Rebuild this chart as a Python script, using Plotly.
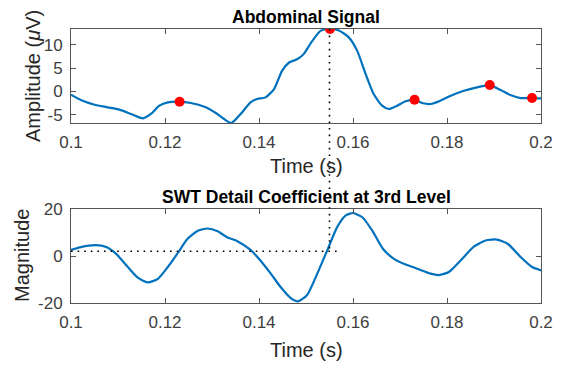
import plotly.graph_objects as go
from plotly.subplots import make_subplots

# ---- data ----
sig_t = [0.1, 0.1021, 0.105, 0.1078, 0.1103, 0.1128, 0.1153, 0.117, 0.1188, 0.1206,
         0.1231, 0.1255, 0.1284, 0.1309, 0.1325, 0.1341, 0.1361, 0.1382, 0.1396, 0.1414,
         0.1432, 0.1449, 0.1464, 0.1481, 0.1495, 0.1513, 0.1531, 0.1551, 0.157, 0.1591,
         0.1609, 0.1627, 0.1644, 0.1662, 0.1676, 0.1694, 0.1712, 0.1731, 0.1747, 0.1765,
         0.1786, 0.1808, 0.1836, 0.1864, 0.1891, 0.1914, 0.1935, 0.1957, 0.1981, 0.2]
sig_v = [-0.73, -1.86, -2.87, -3.43, -3.93, -4.86, -5.79, -4.86, -3.08, -2.36,
         -2.22, -2.5, -3.3, -4.7, -5.9, -6.8, -4.86, -2.36, -1.65, -1.29,
         0.49, 4.41, 6.2, 6.9, 8.0, 10.8, 13.0, 13.4, 13.1, 11.6,
         8.7, 3.7, -0.58, -3.08, -3.8, -3.08, -2.14, -1.8, -2.5, -2.72,
         -2.0, -0.94, 0.13, 0.86, 1.35, 0.28, -0.8, -1.44, -1.44, -1.5]

peak_t = [0.1231, 0.1551, 0.1731, 0.1891, 0.1981]
peak_v = [-2.22, 13.4, -1.8, 1.35, -1.44]

swt_t = [0.1, 0.1021, 0.1053, 0.1075, 0.1096, 0.1121, 0.1142, 0.1163, 0.1185, 0.1206,
         0.1227, 0.1248, 0.127, 0.1291, 0.1312, 0.1332, 0.1354, 0.1382, 0.1403, 0.1425,
         0.1446, 0.1467, 0.1483, 0.1502, 0.1524, 0.1545, 0.1566, 0.1584, 0.16, 0.162,
         0.1641, 0.1664, 0.1687, 0.1708, 0.1737, 0.1765, 0.1783, 0.1804, 0.1829, 0.1857,
         0.1882, 0.1906, 0.1929, 0.1957, 0.1981, 0.2]
swt_v = [2.6, 3.8, 4.6, 3.8, 0.9, -4.7, -9.2, -11.2, -9.7, -4.7,
         1.2, 7.3, 10.8, 11.7, 10.5, 8.0, 6.3, 2.6, -1.9, -7.5,
         -13.2, -17.8, -19.3, -16.7, -7.5, 2.3, 12.2, 17.2, 18.3, 16.5,
         10.8, 3.0, -1.2, -3.3, -5.4, -7.5, -8.1, -6.8, -1.9, 4.0,
         6.6, 7.0, 5.2, -0.5, -4.7, -6.1]

marker_t = 0.155       # time of the main peak
marker_swt = 2.0       # SWT value at that time
hline_end = 0.1575

x_ticks = [0.1, 0.12, 0.14, 0.16, 0.18, 0.2]
x_ticktext = ["0.1", "0.12", "0.14", "0.16", "0.18", "0.2"]
y1_ticks = [-5, 0, 5, 10]
y1_ticktext = ["-5", "0", "5", "10"]
y2_ticks = [-20, 0, 20]
y2_ticktext = ["-20", "0", "20"]
y1_range = [-6.8, 13.4]
y2_range = [-20, 20]

# ---- figure ----
top_dom = [0.657, 1.0]
bot_dom = [0.0, 0.343]

fig = make_subplots(rows=2, cols=1)
fig.add_trace(go.Scatter(x=sig_t, y=sig_v, mode="lines",
                         line=dict(color="#0072BD", width=2.2, shape="spline", smoothing=0.6),
                         hoverinfo="skip", showlegend=False), row=1, col=1)
fig.add_trace(go.Scatter(x=peak_t, y=peak_v, mode="markers", marker=dict(color="#FF0000", size=10),
                         showlegend=False), row=1, col=1)
fig.add_trace(go.Scatter(x=swt_t, y=swt_v, mode="lines",
                         line=dict(color="#0072BD", width=2.2, shape="spline", smoothing=0.6),
                         showlegend=False), row=2, col=1)

FONT = "Arial, Liberation Sans, Helvetica, sans-serif"
axis_common = dict(showline=True, linecolor="#555555", linewidth=1, mirror="allticks",
                   ticks="inside", ticklen=5, tickcolor="#555555", showgrid=False, zeroline=False,
                   automargin=False,
                   tickfont=dict(family=FONT, size=17, color="#404040"))

fig.update_xaxes(range=[0.1, 0.2], tickvals=x_ticks, ticktext=x_ticktext, domain=[0, 1],
                 ticklabelstandoff=4, **axis_common)
fig.update_yaxes(ticklabelstandoff=4, **axis_common)
fig.update_yaxes(range=y1_range, tickvals=y1_ticks, ticktext=y1_ticktext, domain=top_dom, row=1, col=1)
fig.update_yaxes(range=y2_range, tickvals=y2_ticks, ticktext=y2_ticktext, domain=bot_dom, row=2, col=1)

# dotted connector lines
def paper_y(v, rng, dom):
    return dom[0] + (v - rng[0]) / (rng[1] - rng[0]) * (dom[1] - dom[0])

y_top = paper_y(max(peak_v), y1_range, top_dom)
y_bot = paper_y(marker_swt, y2_range, bot_dom)
DOT = dict(color="black", width=1.6, dash="1.6px,5px")
fig.add_shape(type="line", xref="x", yref="paper", x0=marker_t, x1=marker_t, y0=y_top, y1=y_bot, line=DOT)
fig.add_shape(type="line", xref="x2", yref="y2", x0=0.1, x1=hline_end, y0=marker_swt, y1=marker_swt, line=DOT)

LBL = dict(family=FONT, size=20, color="#262626")
TTL = dict(family=FONT, size=17.5, color="black")
# titles
fig.add_annotation(text="<b>Abdominal Signal</b>", xref="paper", yref="paper", x=0.5, y=top_dom[1],
                   yanchor="bottom", showarrow=False, yshift=0, font=TTL)
fig.add_annotation(text="<b>SWT Detail Coefficient at 3rd Level</b>", xref="paper", yref="paper", x=0.5,
                   y=bot_dom[1], yanchor="bottom", showarrow=False, yshift=0, font=TTL)
# axis labels
fig.add_annotation(text="Time (s)", xref="paper", yref="paper", x=0.5, y=top_dom[0],
                   yanchor="middle", showarrow=False, yshift=-43, font=LBL)
fig.add_annotation(text="Time (s)", xref="paper", yref="paper", x=0.5, y=bot_dom[0],
                   yanchor="middle", showarrow=False, yshift=-47, font=LBL)
fig.add_annotation(text="Amplitude (<i>μ</i>V)", xref="paper", yref="paper", x=0,
                   y=(top_dom[0] + top_dom[1]) / 2, xanchor="center", yanchor="middle",
                   textangle=-90, showarrow=False, xshift=-38, font=LBL)
fig.add_annotation(text="Magnitude", xref="paper", yref="paper", x=0,
                   y=(bot_dom[0] + bot_dom[1]) / 2, xanchor="center", yanchor="middle",
                   textangle=-90, showarrow=False, xshift=-49, font=LBL)

# the page body adds an 8px offset, so the figure is 8px smaller to fit the window
fig.update_layout(width=563, height=357, margin=dict(l=63, r=30, t=21, b=62),
                  paper_bgcolor="white", plot_bgcolor="white", showlegend=False)

fig.write_html("out.html")
